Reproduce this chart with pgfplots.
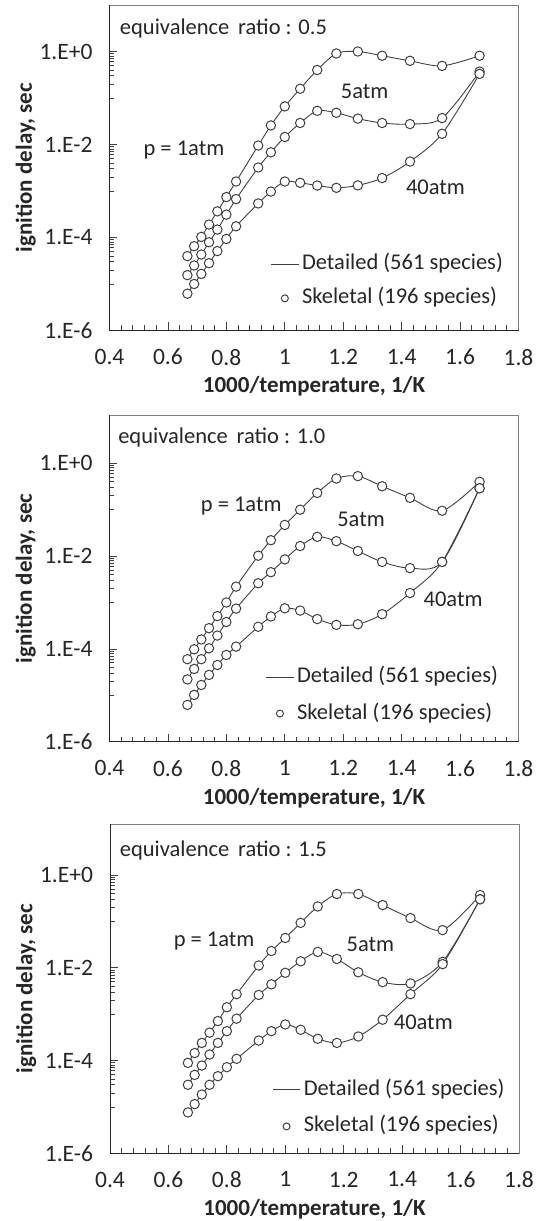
\documentclass[border=0pt]{standalone}
\usepackage{fontspec}
\setmainfont{Carlito}
\usepackage{pgfplots}
\pgfplotsset{compat=1.18}
\usepackage{pgfplotstable}

\definecolor{txt}{HTML}{262626}
\definecolor{ln}{HTML}{404040}
\definecolor{frm}{HTML}{808080}

\pgfplotstableread{
x      p1       p5       p40
0.6667 3.98e-5  1.55e-5  6.2e-6
0.6897 6.5e-5   2.5e-5   1.0e-5
0.7143 1.03e-4  4.3e-5   1.65e-5
0.7407 1.9e-4   7.9e-5   2.8e-5
0.7692 3.65e-4  1.48e-4  5.1e-5
0.8    7.4e-4   3.1e-4   9.3e-5
0.8333 1.6e-3   6.7e-4   1.74e-4
0.9091 9.5e-3   3.2e-3   5.4e-4
0.9524 2.57e-2  6.8e-3   9.7e-4
1.0    6.6e-2   1.45e-2  1.6e-3
1.0526 0.158    2.9e-2   1.5e-3
1.1111 0.40     5.3e-2   1.31e-3
1.1765 0.906    4.8e-2   1.17e-3
1.25   1.0      3.6e-2   1.32e-3
1.3333 0.81     2.9e-2   1.9e-3
1.4286 0.63     2.75e-2  4.3e-3
1.5385 0.49     3.7e-2   1.7e-2
1.6667 0.81     0.37     0.33
}\phiA

\pgfplotstableread{
x      p1       p5       p40
0.6667 6.0e-5   2.2e-5   6.2e-6
0.6897 9.8e-5   3.7e-5   1.02e-5
0.7143 1.6e-4   6.0e-5   1.67e-5
0.7407 2.8e-4   1.03e-4  2.75e-5
0.7692 5.1e-4   1.94e-4  4.5e-5
0.8    1.0e-3   3.8e-4   7.4e-5
0.8333 2.2e-3   7.4e-4   1.12e-4
0.9091 1.02e-2  2.6e-3   3.0e-4
0.9524 2.2e-2   4.5e-3   5.0e-4
1.0    4.7e-2   8.5e-3   7.5e-4
1.0526 0.10     1.65e-2  6.7e-4
1.1111 0.23     2.6e-2   4.4e-4
1.1765 0.47     2.1e-2   3.3e-4
1.25   0.53     1.29e-2  3.4e-4
1.3333 0.32     7.5e-3   5.6e-4
1.4286 0.18     5.5e-3   1.6e-3
1.5385 0.095    7.5e-3   7.5e-3
1.6667 0.40     0.29     0.29
}\phiB

\pgfplotstableread{
x      p1       p5       p40
0.6667 8.9e-5   3.0e-5   7.6e-6
0.6897 1.45e-4  4.9e-5   1.15e-5
0.7143 2.4e-4   7.8e-5   1.85e-5
0.7407 4.0e-4   1.35e-4  3.0e-5
0.7692 7.1e-4   2.4e-4   4.6e-5
0.8    1.41e-3  4.3e-4   7.2e-5
0.8333 2.7e-3   8.0e-4   1.09e-4
0.9091 1.12e-2  2.6e-3   2.7e-4
0.9524 2.3e-2   4.4e-3   4.3e-4
1.0    4.4e-2   7.8e-3   6.0e-4
1.0526 9.3e-2   1.38e-2  4.6e-4
1.1111 0.21     2.2e-2   2.95e-4
1.1765 0.39     1.55e-2  2.4e-4
1.25   0.39     8.0e-3   3.3e-4
1.3333 0.225    4.9e-3   7.6e-4
1.4286 0.118    4.6e-3   2.7e-3
1.5385 0.065    1.34e-2  1.2e-2
1.6667 0.37     0.30     0.30
}\phiC

\newcommand{\bigfont}{\fontsize{22.5}{27}\selectfont}
\newcommand{\tickfont}{\fontsize{23.5}{28}\selectfont}

\tikzset{lab/.style={font=\bigfont, text=txt, inner sep=0pt}}

\pgfplotsset{
  legend image code/.code={\draw[mark repeat=2,mark phase=2,#1] plot coordinates {(0pt,0pt) (13.75pt,0pt) (27.5pt,0pt)};},
}

\pgfplotsset{
  every axis/.append style={
    scale only axis, width=409pt,
    xmin=0.4, xmax=1.8, ymin=1e-6,
    xtick={0.4,0.6,0.8,1,1.2,1.4,1.6,1.8},
    xticklabels={0.4,0.6,0.8,1,1.2,1.4,1.6,1.8},
    minor x tick num=4,
    ytick={1e-6,1e-4,1e-2,1},
    yticklabels={1.E-6,1.E-4,1.E-2,1.E+0},
    minor ytick={0.1e-4,0.2e-4,0.3e-4,0.4e-4,0.5e-4,0.6e-4,0.7e-4,0.8e-4,0.9e-4,
                 0.1e-2,0.2e-2,0.3e-2,0.4e-2,0.5e-2,0.6e-2,0.7e-2,0.8e-2,0.9e-2,
                 0.1,0.2,0.3,0.4,0.5,0.6,0.7,0.8,0.9},
    tick align=inside, xtick pos=bottom, ytick pos=left,
    major tick length=8pt, minor tick length=5pt,
    every tick/.append style={line width=0.8pt, color=black!75},
    axis line style={frm, line width=0.9pt},
    ticklabel style={font=\tickfont, text=txt},
    yticklabel style={xshift=-13.5pt},
    xticklabel style={yshift=-15pt},
    xlabel={1000/temperature, 1/K},
    ylabel={ignition delay, sec},
    label style={font=\fontsize{23}{27}\selectfont\bfseries, text=txt},
    xlabel style={at={(axis description cs:0.5,0)}, anchor=base, yshift=-62.5pt},
    ylabel style={at={(axis description cs:-0.205,0.5)}, anchor=center},
    legend style={draw=none, fill=none, font=\bigfont, text=txt, anchor=west,
      inner sep=0pt, outer sep=0pt, row sep=12pt, column sep=3pt,
      nodes={inner sep=0pt, text height=17pt, text depth=6pt}},
    legend cell align=left,
    after end axis/.code={\draw[black!85, line width=1pt] (rel axis cs:0,1) -- (rel axis cs:0,0) -- (rel axis cs:1,0);},
  },
}

\begin{document}
\begin{tikzpicture}
\path[use as bounding box] (0pt,0pt) rectangle (536pt,1221pt);

% ---------- panel 1 : phi = 0.5 ----------
\begin{axis}[ymode=log, at={(109.5pt,890.5pt)}, anchor=south west, height=325.5pt, ymax=10,
  legend style={at={(0.394,0.151)}, row sep=11pt}]
\addlegendimage{ln, line width=0.9pt}
\addlegendentry{Detailed (561 species)}
\addlegendimage{only marks, mark=*, mark size=3.5pt, mark options={fill=white, draw=ln, line width=1pt}}
\addlegendentry{Skeletal (196 species)}
\addplot[forget plot, ln, line width=0.9pt, smooth, no marks] table[x=x,y=p1] {\phiA};
\addplot[forget plot, ln, line width=0.9pt, smooth, no marks] table[x=x,y=p5] {\phiA};
\addplot[forget plot, ln, line width=0.9pt, smooth, no marks] table[x=x,y=p40] {\phiA};
\addplot[forget plot, only marks, mark=*, mark size=4.7pt, mark options={fill=white, draw=ln, line width=1pt}] table[x=x,y=p1] {\phiA};
\addplot[forget plot, only marks, mark=*, mark size=4.7pt, mark options={fill=white, draw=ln, line width=1pt}] table[x=x,y=p5] {\phiA};
\addplot[forget plot, only marks, mark=*, mark size=4.7pt, mark options={fill=white, draw=ln, line width=1pt}] table[x=x,y=p40] {\phiA};
\node[lab, anchor=base west] at (rel axis cs:0.025,0.910) {equivalence\, ratio : 0.5};
\node[lab, anchor=base] at (rel axis cs:0.182,0.537) {p = 1atm};
\node[lab, anchor=base] at (rel axis cs:0.624,0.712) {5atm};
\node[lab, anchor=base] at (rel axis cs:0.797,0.419) {40atm};
\end{axis}

% ---------- panel 2 : phi = 1.0 ----------
\begin{axis}[ymode=log, at={(109.5pt,479.3pt)}, anchor=south west, height=326.7pt, ymax=11,
  legend style={at={(0.382,0.142)}, row sep=13.5pt}]
\addlegendimage{ln, line width=0.9pt}
\addlegendentry{Detailed (561 species)}
\addlegendimage{only marks, mark=*, mark size=3.5pt, mark options={fill=white, draw=ln, line width=1pt}}
\addlegendentry{Skeletal (196 species)}
\addplot[forget plot, ln, line width=0.9pt, smooth, no marks] table[x=x,y=p1] {\phiB};
\addplot[forget plot, ln, line width=0.9pt, smooth, no marks] table[x=x,y=p5] {\phiB};
\addplot[forget plot, ln, line width=0.9pt, smooth, no marks] table[x=x,y=p40] {\phiB};
\addplot[forget plot, only marks, mark=*, mark size=4.7pt, mark options={fill=white, draw=ln, line width=1pt}] table[x=x,y=p1] {\phiB};
\addplot[forget plot, only marks, mark=*, mark size=4.7pt, mark options={fill=white, draw=ln, line width=1pt}] table[x=x,y=p5] {\phiB};
\addplot[forget plot, only marks, mark=*, mark size=4.7pt, mark options={fill=white, draw=ln, line width=1pt}] table[x=x,y=p40] {\phiB};
\node[lab, anchor=base west] at (rel axis cs:0.021,0.913) {equivalence\, ratio : 1.0};
\node[lab, anchor=base] at (rel axis cs:0.322,0.704) {p = 1atm};
\node[lab, anchor=base] at (rel axis cs:0.615,0.660) {5atm};
\node[lab, anchor=base] at (rel axis cs:0.840,0.413) {40atm};
\end{axis}

% ---------- panel 3 : phi = 1.5 ----------
\begin{axis}[ymode=log, at={(110pt,67.7pt)}, anchor=south west, height=329.3pt, ymax=12.6,
  legend style={at={(0.397,0.137)}, row sep=13.5pt}]
\addlegendimage{ln, line width=0.9pt}
\addlegendentry{Detailed (561 species)}
\addlegendimage{only marks, mark=*, mark size=3.5pt, mark options={fill=white, draw=ln, line width=1pt}}
\addlegendentry{Skeletal (196 species)}
\addplot[forget plot, ln, line width=0.9pt, smooth, no marks] table[x=x,y=p1] {\phiC};
\addplot[forget plot, ln, line width=0.9pt, smooth, no marks] table[x=x,y=p5] {\phiC};
\addplot[forget plot, ln, line width=0.9pt, smooth, no marks] table[x=x,y=p40] {\phiC};
\addplot[forget plot, only marks, mark=*, mark size=4.7pt, mark options={fill=white, draw=ln, line width=1pt}] table[x=x,y=p1] {\phiC};
\addplot[forget plot, only marks, mark=*, mark size=4.7pt, mark options={fill=white, draw=ln, line width=1pt}] table[x=x,y=p5] {\phiC};
\addplot[forget plot, only marks, mark=*, mark size=4.7pt, mark options={fill=white, draw=ln, line width=1pt}] table[x=x,y=p40] {\phiC};
\node[lab, anchor=base west] at (rel axis cs:0.0235,0.9005) {equivalence\, ratio : 1.5};
\node[lab, anchor=base] at (rel axis cs:0.2546,0.629) {p = 1atm};
\node[lab, anchor=base] at (rel axis cs:0.6366,0.6117) {5atm};
\node[lab, anchor=base] at (rel axis cs:0.766,0.375) {40atm};
\end{axis}
\end{tikzpicture}
\end{document}
